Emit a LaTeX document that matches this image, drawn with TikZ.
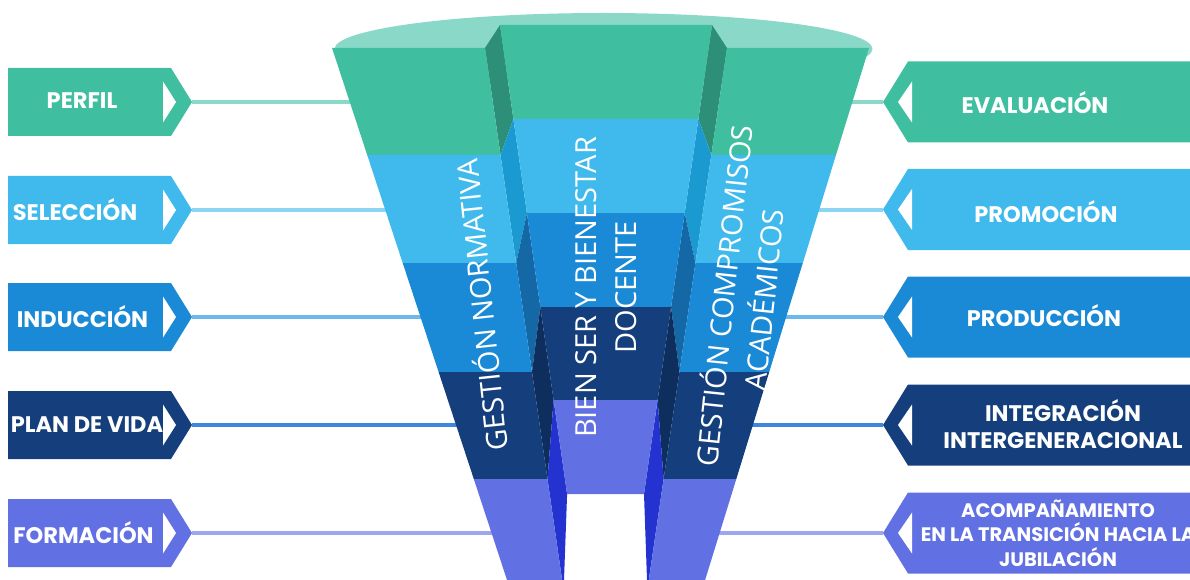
\documentclass[tikz,border=0pt]{standalone}
\usepackage{fontspec}
\newfontfamily\tagfont{Poppins}
\newfontfamily\funfont{Open Sans}
\definecolor{cg}{HTML}{40BFA0}\definecolor{cgd}{HTML}{2E8F78}\definecolor{cgl}{HTML}{8AD9C8}
\definecolor{ca}{HTML}{40BAEC}\definecolor{cad}{HTML}{1A9AD0}\definecolor{cal}{HTML}{8CD5F3}
\definecolor{cb}{HTML}{1B8AD6}\definecolor{cbd}{HTML}{1568A6}\definecolor{cbl}{HTML}{6CB8EC}
\definecolor{cn}{HTML}{143F7C}\definecolor{cnd}{HTML}{0E2F5E}\definecolor{cnl}{HTML}{3F86E0}
\definecolor{cp}{HTML}{6170E2}\definecolor{cpd}{HTML}{2433D0}\definecolor{cpl}{HTML}{A0A6EE}
\begin{document}
\begin{tikzpicture}[x=1pt,y=-1pt,
  tagtext/.style={text=white,font=\tagfont\bfseries\fontsize{22.5}{27}\selectfont,inner sep=0pt,align=center},
  tagsmall/.style={text=white,font=\tagfont\bfseries\fontsize{19.5}{24.5}\selectfont,inner sep=0pt,align=center},
  funtext/.style={text=white,font=\funfont\fontsize{29}{40}\selectfont,inner sep=0pt,align=center},
  link/.style={line width=4pt}]
\useasboundingbox (0,0) rectangle (1190,580);
% lid
\fill[cgl] (603.5,49) ellipse [x radius=269, y radius=36];
% left tags
\foreach \c/\col/\n in {102/cg/1,210/ca/2,317/cb/3,425/cn/4,533/cp/5}{
  \fill[\col] (8,{\c-34}) -- (171,{\c-34}) -- (192,\c) -- (171,{\c+34}) -- (8,{\c+34}) -- cycle;
  \fill[white] (163,{\c-20.5}) -- (176,\c) -- (163,{\c+20.5}) -- cycle;
  \coordinate (lt\n) at (192,\c);
}
% right tags
\foreach \c/\col/\n in {102/cg/1,209.5/ca/2,317/cb/3,425/cn/4,533/cp/5}{
  \fill[\col] (1190,{\c-40.5}) -- (908,{\c-40.5}) -- (883,\c) -- (908,{\c+40.5}) -- (1190,{\c+40.5}) -- cycle;
  \fill[white] (912,{\c-20.5}) -- (898,\c) -- (912,{\c+20.5}) -- cycle;
  \coordinate (rt\n) at (883,\c);
}
% funnel anchor points for connectors
\coordinate (lf1) at (360,102);\coordinate (lf2) at (395,210);\coordinate (lf3) at (430,317);
\coordinate (lf4) at (465,425);\coordinate (lf5) at (500,533);
\coordinate (rf1) at (845,102);\coordinate (rf2) at (812,209.5);\coordinate (rf3) at (778,317);
\coordinate (rf4) at (745,425);\coordinate (rf5) at (712,533);
\draw[link,cgl] (lt1) -- (lf1); \draw[link,cal] (lt2) -- (lf2); \draw[link,cbl] (lt3) -- (lf3);
\draw[link,cnl] (lt4) -- (lf4); \draw[link,cpl] (lt5) -- (lf5);
\draw[link,cgl] (rf1) -- (rt1); \draw[link,cal] (rf2) -- (rt2); \draw[link,cbl] (rf3) -- (rt3);
\draw[link,cnl] (rf4) -- (rt4); \draw[link,cpl] (rf5) -- (rt5);
% side strips
\fill[cgd] (485,48) -- (500,25) -- (513.4,119) -- (500.5,155) -- cycle;
\fill[cad] (500.5,155) -- (513.4,119) -- (526.9,213) -- (516.2,263) -- cycle;
\fill[cbd] (516.2,263) -- (526.9,213) -- (540.3,307) -- (532,372) -- cycle;
\fill[cnd] (532,372) -- (540.3,307) -- (553.6,400) -- (547.5,479) -- cycle;
\fill[cpd] (547.5,479) -- (553.6,400) -- (567.1,494) -- (564,580) -- (562.1,580) -- cycle;
\fill[cgd] (727,48) -- (712,25) -- (698.4,119) -- (711.3,155) -- cycle;
\fill[cad] (711.3,155) -- (698.4,119) -- (684.7,213) -- (695.4,263) -- cycle;
\fill[cbd] (695.4,263) -- (684.7,213) -- (671.1,307) -- (679.4,372) -- cycle;
\fill[cnd] (679.4,372) -- (671.1,307) -- (657.6,400) -- (663.6,479) -- cycle;
\fill[cpd] (663.6,479) -- (657.6,400) -- (644,494) -- (647,580) -- (648.8,580) -- cycle;
% left column
\fill[cg] (332,48) -- (485,48) -- (500.5,155) -- (367.2,155) -- cycle;
\fill[ca] (367.2,155) -- (500.5,155) -- (516.2,263) -- (402.7,263) -- cycle;
\fill[cb] (402.7,263) -- (516.2,263) -- (532,372) -- (438.6,372) -- cycle;
\fill[cn] (438.6,372) -- (532,372) -- (547.5,479) -- (473.8,479) -- cycle;
\fill[cp] (473.8,479) -- (547.5,479) -- (562.1,580) -- (507,580) -- cycle;
% right column
\fill[cg] (727,48) -- (869,48) -- (836,155) -- (711.3,155) -- cycle;
\fill[ca] (711.3,155) -- (836,155) -- (802.8,263) -- (695.4,263) -- cycle;
\fill[cb] (695.4,263) -- (802.8,263) -- (769.2,372) -- (679.4,372) -- cycle;
\fill[cn] (679.4,372) -- (769.2,372) -- (736.3,479) -- (663.6,479) -- cycle;
\fill[cp] (663.6,479) -- (736.3,479) -- (705.1,580) -- (648.8,580) -- cycle;
% center column
\fill[cg] (500,25) -- (712,25) -- (698.4,119) -- (513.4,119) -- cycle;
\fill[ca] (513.4,119) -- (698.4,119) -- (684.7,213) -- (526.9,213) -- cycle;
\fill[cb] (526.9,213) -- (684.7,213) -- (671.1,307) -- (540.3,307) -- cycle;
\fill[cn] (540.3,307) -- (671.1,307) -- (657.6,400) -- (553.6,400) -- cycle;
\fill[cp] (553.6,400) -- (657.6,400) -- (644,494) -- (567.1,494) -- cycle;
% funnel texts
\node[funtext,rotate=96] (gn) at (479.5,305) {GESTIÓN NORMATIVA};
\node[funtext,rotate=90] (bs) at (606,287.5) {BIEN SER Y BIENESTAR\\DOCENTE};
\node[funtext,rotate=84] (gc) at (741.75,297.5) {GESTIÓN COMPROMISOS\\ACADÉMICOS};
% tag texts
\node[tagtext] (l1) at (82,101) {PERFIL};
\node[tagtext] (l2) at (75,210) {SELECCIÓN};
\node[tagtext] (l3) at (82.5,317) {INDUCCIÓN};
\node[tagtext] (l4) at (87,425) {PLAN DE VIDA};
\node[tagtext] (l5) at (83.5,533) {FORMACIÓN};
\node[tagtext] (r1) at (1035,103) {EVALUACIÓN};
\node[tagtext] (r2) at (1046,211.5) {PROMOCIÓN};
\node[tagtext] (r3) at (1044,315.5) {PRODUCCIÓN};
\node[tagtext] (r4) at (1063,424) {INTEGRACIÓN\\INTERGENERACIONAL};
\node[tagsmall] (r5) at (1058,533) {ACOMPAÑAMIENTO\\EN LA TRANSICIÓN HACIA LA\\JUBILACIÓN};
\end{tikzpicture}
\end{document}
